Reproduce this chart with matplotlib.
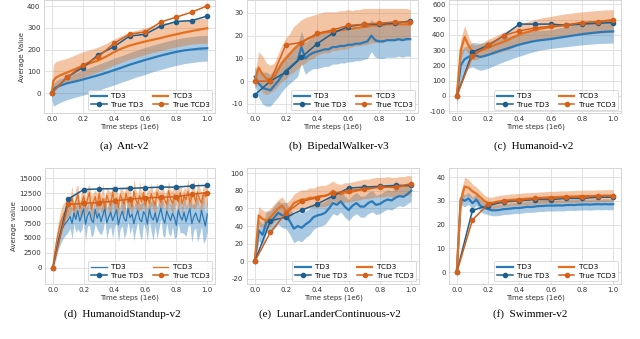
import numpy as np
import matplotlib
matplotlib.use("Agg")
import matplotlib.pyplot as plt

# ---------------- data ----------------
true_steps = [0.0, 0.1, 0.2, 0.3, 0.4, 0.5, 0.6, 0.7, 0.8, 0.9, 1.0]
x_ticks = [0.0, 0.2, 0.4, 0.6, 0.8, 1.0]

# (a) Ant-v2
steps_a = [0.0, 0.01, 0.025, 0.05, 0.1, 0.15, 0.2, 0.25, 0.3, 0.35, 0.4, 0.45, 0.5,
           0.55, 0.6, 0.65, 0.7, 0.75, 0.8, 0.85, 0.9, 0.95, 1.0]
td3_a = [0, 15, 25, 33, 45, 53, 62, 72, 82, 93, 105, 117, 130, 141, 152, 162, 172, 181, 189, 196, 200, 204, 206]
td3_a_lo = [-30, -60, -55, -45, -30, -20, -10, 0, 12, 25, 37, 50, 62, 75, 85, 98, 108, 118, 127, 135, 140, 145, 147]
td3_a_hi = [20, 40, 55, 65, 80, 92, 105, 118, 132, 146, 160, 172, 186, 198, 210, 220, 230, 240, 248, 255, 260, 264, 265]
tcd3_a = [0, 55, 70, 80, 95, 110, 125, 138, 150, 168, 188, 205, 218, 228, 237, 245, 253, 262, 270, 278, 285, 292, 298]
tcd3_a_lo = [0, 10, 20, 30, 45, 58, 72, 85, 98, 112, 128, 142, 155, 166, 176, 186, 195, 204, 212, 219, 225, 228, 230]
tcd3_a_hi = [20, 130, 145, 150, 160, 175, 190, 200, 212, 228, 248, 265, 280, 290, 300, 310, 318, 325, 332, 337, 340, 342, 345]
true_td3_a = [0, 74, 117, 176, 213, 262, 270, 308, 329, 333, 354]
true_tcd3_a = [0, 74, 127, 167, 228, 271, 281, 326, 349, 372, 401]

# (b) BipedalWalker-v3  (41 evaluations, every 0.025e6 steps)
td3_b = [2, -1, -3, -3.5, -4, -2, 0, 2.5, 4.5, 6, 7.5, 9, 15, 10, 11.5, 12.5, 13, 13.5, 14, 14,
         15, 15, 15.5, 15.5, 16, 16, 16.5, 16.5, 17, 17.5, 20, 18, 17.5, 17.5, 18, 18, 18, 18.5,
         18, 18.5, 18.5]
td3_b_sd = [4, 6, 7, 7.5, 7, 7, 7, 7, 7, 7, 7, 7, 7, 7, 7, 7, 7.5, 7.5, 7.5, 7.5, 7.5, 7.5, 7.5,
            7.5, 7.5, 7.5, 7.5, 7.5, 7.5, 7.5, 7, 7.5, 7.5, 7.5, 7.5, 7.5, 7.5, 7.5, 7.5, 7.5, 7.5]
tcd3_b = [0, 6, 3, 1, 1, 2, 5, 8, 10, 12, 14, 15.5, 17, 18, 19, 19.5, 20.5, 21, 21.5, 21.5, 22,
          22, 22.5, 22.5, 23, 23, 23.5, 23.5, 24, 24, 24.5, 24.5, 24.5, 24.5, 25, 25, 25, 25, 25,
          25, 25]
tcd3_b_sd = [3, 7, 8, 7, 6, 6, 7, 8, 9, 9, 10, 10, 10, 10, 9.5, 9.5, 9, 9, 9, 9, 8.5, 8.5, 8.5,
             8.5, 8.5, 8, 8, 8, 8, 8, 7.5, 7.5, 7.5, 7.5, 7, 7, 7, 7, 7, 7, 6.5]
true_td3_b = [-6, 0, 4, 10.5, 16.4, 21, 24, 25, 25, 25.5, 26.5]
true_tcd3_b = [0, 0, 16, 17, 21, 22.5, 24.5, 25, 25.5, 26, 26]

# (c) Humanoid-v2
td3_c = [0, 200, 240, 255, 270, 262, 255, 260, 268, 277, 286, 295, 303, 311, 319, 328, 336, 342,
         348, 354, 359, 363, 366, 369, 372, 376, 380, 384, 388, 392, 396, 400, 404, 407, 410, 413,
         416, 418, 420, 421, 422]
td3_c_sd = [60, 100, 80, 75, 80, 85, 88, 88, 88, 86, 84, 82, 80, 78, 77, 76, 76, 74, 72, 70, 68,
            66, 64, 63, 62, 63, 64, 65, 66, 67, 68, 69, 70, 71, 72, 73, 74, 75, 76, 76, 77]
tcd3_c = [0, 300, 385, 330, 285, 285, 295, 305, 318, 326, 335, 345, 355, 365, 378, 390, 400, 410,
          418, 425, 432, 437, 442, 446, 450, 454, 458, 462, 465, 468, 471, 474, 476, 478, 480, 482,
          484, 486, 488, 489, 490]
tcd3_c_sd = [50, 70, 75, 55, 50, 48, 48, 50, 52, 55, 58, 60, 62, 64, 66, 68, 68, 68, 68, 68, 68,
             69, 70, 70, 70, 71, 72, 72, 73, 73, 74, 74, 74, 74, 75, 75, 75, 75, 75, 75, 75]
true_td3_c = [0, 287, 330, 395, 470, 470, 470, 462, 470, 475, 480]
true_tcd3_c = [0, 260, 330, 395, 425, 445, 455, 462, 480, 485, 500]

# (d) HumanoidStandup-v2  (81 evaluations, every 0.0125e6 steps)
td3_d = [0, 1500, 3200, 4800, 5800, 6600, 7200, 7600, 8000,
         8600, 7400, 9200, 8100, 9600, 7800, 8800, 9900, 7300, 8700,
         9400, 8000, 7600, 9800, 8300, 9100, 7700, 8900, 10000, 7500,
         8500, 9300, 7900, 8800, 9700, 7200, 8600, 9500, 8200, 7800,
         9900, 8400, 9000, 7400, 8700, 9600, 8100, 7700, 9400, 8900,
         7300, 9800, 8500, 8000, 9200, 7600, 8800, 10000, 8300, 7500,
         9500, 8700, 7900, 9100, 8400, 7100, 9700, 8600, 8000, 9300,
         7700, 8900, 9900, 7400, 8500, 9200, 8100, 7600, 9600, 8300,
         7000, 9000]
td3_d_sd = [200, 800, 1300, 1600, 1800, 1900, 2000, 2000, 2000,
            2000, 2600, 1800, 2200, 3000, 1900, 2400, 2100, 2800, 1700,
            2300, 2900, 2000, 2500, 1800, 3200, 2200, 2600, 1900, 2700,
            2100, 2400, 3000, 1800, 2300, 2800, 2000, 2500, 3300, 1900,
            2200, 2700, 2100, 2900, 2400, 1800, 2600, 3100, 2000, 2300,
            2800, 1900, 2500, 3400, 2100, 2700, 2200, 1800, 2900, 2400,
            2000, 3000, 2600, 2200, 3500, 1900, 2300, 2800, 2100, 3600,
            2400, 2000, 2700, 3200, 2200, 2500, 3800, 2100, 2600, 4200,
            2300, 2900]
tcd3_d = [0, 2500, 4500, 6000, 7500, 8500, 9200, 9800, 10200,
          10400, 11800, 9600, 11200, 12300, 9900, 10900, 12000, 10200, 11500,
          12600, 9800, 11000, 11900, 10300, 12400, 10700, 11600, 9900, 12200,
          11100, 10400, 12700, 10800, 11700, 10100, 12300, 11300, 10600, 12500,
          10900, 11800, 10200, 12800, 11400, 10700, 12100, 11000, 12600, 10400,
          11900, 10800, 12400, 11200, 10500, 12700, 11600, 10900, 12200, 11300,
          10600, 12900, 11500, 10800, 12300, 11700, 11000, 12600, 10700, 12100,
          11400, 12800, 10900, 11800, 12400, 11100, 12700, 11500, 10800, 12500,
          11900, 12200]
tcd3_d_sd = [300, 1000, 1500, 1800, 2000, 2000, 1800, 1600, 1500,
             1500, 1900, 1300, 2200, 1600, 1200, 2400, 1700, 1400, 2000,
             1300, 2300, 1600, 1100, 2100, 1800, 1400, 2500, 1500, 1200,
             1900, 2200, 1300, 1700, 2400, 1500, 1100, 2000, 1800, 1400,
             2300, 1600, 1200, 2100, 1700, 1500, 2400, 1300, 1900, 1600,
             1200, 2200, 1800, 1400, 2500, 1500, 1300, 2000, 1700, 1100,
             2300, 1600, 1400, 2100, 1800, 1200, 2400, 1500, 1900, 1300,
             1700, 2200, 1400, 1600, 2500, 1200, 1800, 2000, 1500, 1300,
             2100, 1700]
true_td3_d = [0, 11500, 13100, 13200, 13250, 13300, 13400, 13500, 13500, 13700, 13800]
true_tcd3_d = [0, 10600, 10800, 10900, 11200, 11500, 11700, 11800, 11900, 12300, 12600]

# (e) LunarLanderContinuous-v2
td3_e = [0, 35, 30, 45, 44, 50, 55, 52, 52, 45, 37, 40, 38, 42, 45, 50, 52, 53, 55, 60, 66, 64,
         68, 62, 58, 63, 66, 62, 62, 66, 68, 64, 65, 68, 70, 69, 72, 74, 73, 76, 80]
td3_e_sd = [5, 12, 12, 12, 13, 13, 13, 14, 15, 15, 16, 16, 16, 15, 15, 14, 13, 13, 13, 12, 12,
            12, 12, 12, 12, 12, 12, 12, 12, 12, 12, 11, 11, 11, 11, 11, 11, 11, 11, 11, 12]
tcd3_e = [0, 52, 48, 46, 50, 55, 60, 63, 56, 60, 66, 68, 70, 70, 72, 72, 73, 74, 74, 76, 80, 77,
          76, 78, 78, 79, 80, 81, 82, 82, 83, 84, 84, 84, 85, 84, 84, 85, 85, 86, 86]
tcd3_e_sd = [5, 10, 10, 10, 10, 10, 10, 10, 10, 10, 10, 11, 11, 11, 11, 11, 12, 12, 12, 12, 11,
             11, 11, 11, 11, 11, 11, 11, 11, 11, 11, 11, 11, 11, 11, 11, 11, 11, 11, 11, 11]
true_td3_e = [0, 46, 50, 58, 65, 74, 83, 84, 85, 86, 86]
true_tcd3_e = [0, 33, 55, 68, 72, 77, 80, 82, 84, 84, 88]

# (f) Swimmer-v2
td3_f = [0, 31, 30, 31, 29, 30.5, 28, 27, 26.5, 26, 26, 26.2, 26.5, 26.6, 26.8, 27, 27, 27.2,
         27.5, 27.4, 27.6, 27.8, 27.8, 28, 28, 28, 28.1, 28, 28.2, 28.3, 28.2, 28.4, 28.4, 28.5,
         28.4, 28.5, 28.6, 28.5, 28.6, 28.5, 28.6]
td3_f_sd = [1, 2.5, 2.5, 2.5, 2.5, 2.5, 2.5, 2.4, 2.3, 2.3, 2.3, 2.3, 2.3, 2.3, 2.3, 2.3, 2.3,
            2.3, 2.3, 2.3, 2.3, 2.3, 2.3, 2.3, 2.3, 2.3, 2.3, 2.3, 2.3, 2.3, 2.3, 2.3, 2.3, 2.3,
            2.3, 2.3, 2.3, 2.3, 2.3, 2.3, 2.3]
tcd3_f = [0, 30, 36, 35.5, 34, 33, 31.5, 30, 29, 29, 29.5, 29.8, 30, 30.2, 30.4, 30.5, 30.6, 30.8,
          30.9, 31, 31, 31.2, 31.3, 31.4, 31.5, 31.5, 31.6, 31.7, 31.7, 31.8, 31.8, 31.9, 32, 32,
          32, 32, 32.1, 32.1, 32.2, 32.2, 32.2]
tcd3_f_sd = [1, 3.5, 4, 3.5, 3, 2.8, 2.6, 2.5, 2.5, 2.5, 2.5, 2.5, 2.5, 2.5, 2.5, 2.5, 2.5, 2.5,
             2.5, 2.5, 2.5, 2.5, 2.5, 2.5, 2.5, 2.5, 2.5, 2.5, 2.5, 2.5, 2.5, 2.5, 2.5, 2.5, 2.5,
             2.5, 2.5, 2.5, 2.5, 2.5, 2.5]
true_td3_f = [0, 26, 28, 29.5, 30, 30.5, 30.5, 31, 31, 31.5, 31.5]
true_tcd3_f = [0, 22, 28.5, 30, 30.2, 31, 31, 31.5, 31.5, 32, 32]

# ---------------- style ----------------
C_TD3 = "#2a7ab8"
C_TCD3 = "#e5701e"
C_TTD3 = "#1c5e8e"
C_TTCD3 = "#d4601a"
TICK_FS = 5.0
LEG_FS = 5.2

W, H = 640, 339
fig = plt.figure(figsize=(6.4, 3.39), dpi=100)
fig.patch.set_facecolor("white")


def add_ax(l, r, t, b):
    return fig.add_axes([l / W, 1 - b / H, (r - l) / W, (b - t) / H])


steps41 = np.linspace(0, 1, 41)
steps81 = np.linspace(0, 1, 81)

panels = [
    dict(box=(44, 215, 0, 113), x=steps_a, td3=td3_a, td3_lo=td3_a_lo, td3_hi=td3_a_hi,
         tcd3=tcd3_a, tcd3_lo=tcd3_a_lo, tcd3_hi=tcd3_a_hi, ttd3=true_td3_a, ttcd3=true_tcd3_a,
         ylim=(-92, 428), yticks=[0, 100, 200, 300, 400], ylabel="Average Value",
         cap="(a)  Ant-v2", capxy=(124, 146), lw=1.6),
    dict(box=(247, 418, 0, 113), x=steps41, td3=td3_b, td3_sd=td3_b_sd, tcd3=tcd3_b,
         tcd3_sd=tcd3_b_sd, ttd3=true_td3_b, ttcd3=true_tcd3_b,
         ylim=(-14, 35.7), yticks=[-10, 0, 10, 20, 30], ylabel=None,
         cap="(b)  BipedalWalker-v3", capxy=(339, 146), lw=1.6),
    dict(box=(449, 621, 0, 113), x=steps41, td3=td3_c, td3_sd=td3_c_sd, tcd3=tcd3_c,
         tcd3_sd=tcd3_c_sd, ttd3=true_td3_c, ttcd3=true_tcd3_c,
         ylim=(-113, 628), yticks=[-100, 0, 100, 200, 300, 400, 500, 600], ylabel=None,
         cap="(c)  Humanoid-v2", capxy=(534, 146), lw=1.6),
    dict(box=(45, 215, 168, 284), x=steps81, td3=td3_d, td3_sd=td3_d_sd, tcd3=tcd3_d,
         tcd3_sd=tcd3_d_sd, ttd3=true_td3_d, ttcd3=true_tcd3_d,
         ylim=(-2700, 16700), yticks=[0, 2500, 5000, 7500, 10000, 12500, 15000],
         ylabel="Average value", cap="(d)  HumanoidStandup-v2", capxy=(122, 314), lw=0.9),
    dict(box=(247, 419, 168, 284), x=steps41, td3=td3_e, td3_sd=td3_e_sd, tcd3=tcd3_e,
         tcd3_sd=tcd3_e_sd, ttd3=true_td3_e, ttcd3=true_tcd3_e,
         ylim=(-25.7, 105.7), yticks=[-20, 0, 20, 40, 60, 80, 100], ylabel=None,
         cap="(e)  LunarLanderContinuous-v2", capxy=(330, 314), lw=1.6),
    dict(box=(449, 621, 168, 284), x=steps41, td3=td3_f, td3_sd=td3_f_sd, tcd3=tcd3_f,
         tcd3_sd=tcd3_f_sd, ttd3=true_td3_f, ttcd3=true_tcd3_f,
         ylim=(-5, 43.8), yticks=[0, 10, 20, 30, 40], ylabel=None,
         cap="(f)  Swimmer-v2", capxy=(530, 314), lw=1.6),
]

for p in panels:
    ax = add_ax(*p["box"])
    x = np.asarray(p["x"], dtype=float)
    td3 = np.asarray(p["td3"], dtype=float)
    tcd3 = np.asarray(p["tcd3"], dtype=float)
    if "td3_sd" in p:
        sd1 = np.asarray(p["td3_sd"], dtype=float)
        sd2 = np.asarray(p["tcd3_sd"], dtype=float)
        lo1, hi1 = td3 - sd1, td3 + sd1
        lo2, hi2 = tcd3 - sd2, tcd3 + sd2
    else:
        lo1, hi1 = np.asarray(p["td3_lo"]), np.asarray(p["td3_hi"])
        lo2, hi2 = np.asarray(p["tcd3_lo"]), np.asarray(p["tcd3_hi"])

    ax.fill_between(x, lo1, hi1, color=C_TD3, alpha=0.4, lw=0)
    ax.fill_between(x, lo2, hi2, color=C_TCD3, alpha=0.4, lw=0)
    h1, = ax.plot(x, td3, color=C_TD3, lw=p["lw"], label="TD3")
    h3, = ax.plot(x, tcd3, color=C_TCD3, lw=p["lw"], label="TCD3")
    h2, = ax.plot(true_steps, p["ttd3"], color=C_TTD3, lw=1.1, marker="o", ms=3,
                  label="True TD3")
    h4, = ax.plot(true_steps, p["ttcd3"], color=C_TTCD3, lw=1.1, marker="o", ms=3,
                  label="True TCD3")

    ax.set_xlim(-0.05, 1.05)
    ax.set_ylim(*p["ylim"])
    ax.set_xticks(x_ticks)
    ax.set_xticklabels([f"{t:.1f}" for t in x_ticks])
    ax.set_yticks(p["yticks"])
    ax.set_yticklabels([str(t) for t in p["yticks"]])
    ax.grid(True, color="#e2e2e2", lw=0.7)
    ax.set_axisbelow(True)
    for s in ax.spines.values():
        s.set_color("#d5d5d5")
        s.set_linewidth(0.7)
    ax.tick_params(length=0, labelsize=TICK_FS, pad=2.5, labelcolor="#333333")
    ax.set_xlabel("Time steps (1e6)", fontsize=TICK_FS, labelpad=0.5, color="#333333")
    if p["ylabel"]:
        ax.set_ylabel(p["ylabel"], fontsize=TICK_FS, labelpad=1.5, color="#333333")

    leg = ax.legend(handles=[h1, h2, h3, h4], loc="lower right", ncol=2, fontsize=LEG_FS,
                    handlelength=2.1, columnspacing=1.4, labelspacing=0.3, borderpad=0.4,
                    borderaxespad=0.35, handletextpad=0.6, frameon=True, fancybox=True,
                    framealpha=0.85, edgecolor="#cccccc")
    leg.get_frame().set_linewidth(0.6)

    cx, cy = p["capxy"]
    fig.text(cx / W, 1 - cy / H, p["cap"], ha="center", va="center",
             family="Liberation Serif", fontsize=8)

fig.savefig("out.png", dpi=100, facecolor="white")
